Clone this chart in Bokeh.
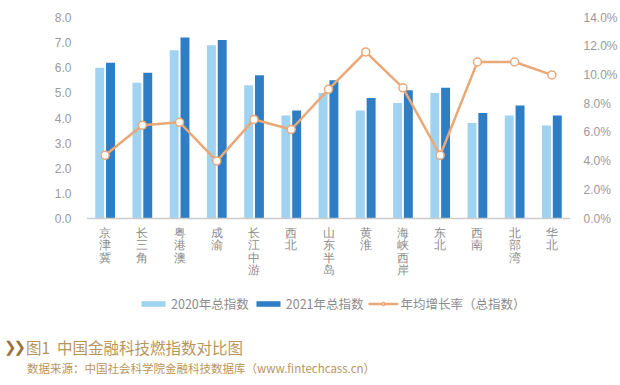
from bokeh.plotting import figure
from bokeh.models import (Range1d, LinearAxis, FactorRange, FixedTicker, NumeralTickFormatter,
                          Legend, LegendItem, ColumnDataSource, Span, Div)
from bokeh.layouts import column
from bokeh.transform import dodge
from bokeh.embed import file_html
from bokeh.resources import INLINE

categories = ["京津冀", "长三角", "粤港澳", "成渝", "长江中游", "西北", "山东半岛",
              "黄淮", "海峡西岸", "东北", "西南", "北部湾", "华北"]
index_2020 = [6.0, 5.4, 6.7, 6.9, 5.3, 4.1, 5.0, 4.3, 4.6, 5.0, 3.8, 4.1, 3.7]
index_2021 = [6.2, 5.8, 7.2, 7.1, 5.7, 4.3, 5.5, 4.8, 5.1, 5.2, 4.2, 4.5, 4.1]
growth_pct = [4.4, 6.5, 6.7, 4.0, 6.9, 6.2, 9.0, 11.6, 9.1, 4.4, 10.9, 10.9, 10.0]
left_ticks = [0, 1, 2, 3, 4, 5, 6, 7, 8]
right_ticks = [0, 0.02, 0.04, 0.06, 0.08, 0.10, 0.12, 0.14]

legend_labels = ["2020年总指数", "2021年总指数", "年均增长率（总指数）"]
title_text = "图1&nbsp;&nbsp;中国金融科技燃指数对比图"
source_text = "数据来源：中国社会科学院金融科技数据库（www.fintechcass.cn）"

C2020 = "#9fd3f1"
C2021 = "#2f7ec5"
CLINE = "#eaa877"
GRAY = "#8c8c8c"
GOLD = "#b8955c"

W = 620
H1 = 318
H2 = 67
TOP = 17
ZERO_Y = 218          # pixel row of value 0
px_per_unit = (ZERO_Y - TOP) / 8.0
y_start = -(H1 - ZERO_Y) / px_per_unit
pct_scale = 0.14 / 8.0

src = ColumnDataSource(dict(cat=categories, v20=index_2020, v21=index_2021,
                            g=[x / 100 for x in growth_pct],
                            lab=["\n".join(list(c)) for c in categories]))

p = figure(width=W, height=H1, x_range=FactorRange(*categories),
           y_range=Range1d(y_start, 8), output_backend="svg", toolbar_location=None,
           x_axis_location=None,
           min_border_left=86, min_border_right=44, min_border_top=TOP, min_border_bottom=0)
p.extra_y_ranges = {"pct": Range1d(y_start * pct_scale, 0.14)}
p.x_range.range_padding = 0

r20 = p.vbar(x=dodge("cat", -0.145, range=p.x_range), top="v20", bottom=0, width=0.24,
             source=src, fill_color=C2020, line_color=None)
r21 = p.vbar(x=dodge("cat", 0.145, range=p.x_range), top="v21", bottom=0, width=0.24,
             source=src, fill_color=C2021, line_color=None)
p.add_layout(Span(location=0, dimension="width", line_color="#cccccc", line_width=1.5))
rl = p.line(x="cat", y="g", source=src, y_range_name="pct", line_color=CLINE, line_width=2.5)
rs = p.scatter(x="cat", y="g", source=src, y_range_name="pct", size=8, fill_color="white",
               line_color=CLINE, line_width=1.5)

# category labels, stacked vertically
p.text(x="cat", y=0, text="lab", source=src, y_offset=8, text_align="center",
       text_baseline="top", text_font="Noto Sans CJK SC", text_font_size="11.5px",
       text_line_height=1.05, text_color=GRAY)

p.xgrid.visible = False
p.ygrid.visible = False
p.outline_line_color = None

ya = p.yaxis[0]
ya.ticker = FixedTicker(ticks=left_ticks)
ya.formatter = NumeralTickFormatter(format="0.0")
ya.axis_line_color = None
ya.major_tick_line_color = None
ya.minor_tick_line_color = None
ya.major_label_text_font = "Liberation Sans"
ya.major_label_text_font_size = "12px"
ya.major_label_text_color = "#9a9a9a"
ya.major_label_standoff = 9

ra = LinearAxis(y_range_name="pct", ticker=FixedTicker(ticks=right_ticks),
                formatter=NumeralTickFormatter(format="0.0%"))
ra.axis_line_color = None
ra.major_tick_line_color = None
ra.minor_tick_line_color = None
ra.major_label_text_font = "Liberation Sans"
ra.major_label_text_font_size = "12px"
ra.major_label_text_color = "#9a9a9a"
ra.major_label_standoff = 7
p.add_layout(ra, "right")

legend = Legend(items=[LegendItem(label=legend_labels[0], renderers=[r20]),
                       LegendItem(label=legend_labels[1], renderers=[r21]),
                       LegendItem(label=legend_labels[2], renderers=[rl, rs])],
                orientation="horizontal", location=(52, 5),
                glyph_width=30, glyph_height=7, label_standoff=3, spacing=4,
                padding=0, margin=0, border_line_color=None, background_fill_alpha=0,
                label_text_font="Noto Sans CJK SC", label_text_font_size="12.5px",
                label_text_color=GRAY, label_height=12)
p.add_layout(legend, "center")

caption_html = (
    '<div style="position:relative;width:620px;height:67px;font-family:\'Noto Sans CJK SC\';">'
    '<span style="position:absolute;left:4px;top:19px;font-family:\'DejaVu Sans\';'
    'font-weight:bold;font-size:15px;letter-spacing:-3px;line-height:20px;'
    'color:#9a7440;">❯❯</span>'
    '<span style="position:absolute;left:26px;top:19px;font-size:15.5px;line-height:20px;'
    f'color:{GOLD};">{title_text}</span>'
    '<span style="position:absolute;left:27px;top:43px;font-size:11.5px;line-height:15px;'
    f'color:{GOLD};">{source_text}</span>'
    '</div>'
)
caption = Div(text=caption_html, width=W, height=H2, margin=0)

open("out.html", "w").write(file_html(column(p, caption, spacing=0), INLINE))
